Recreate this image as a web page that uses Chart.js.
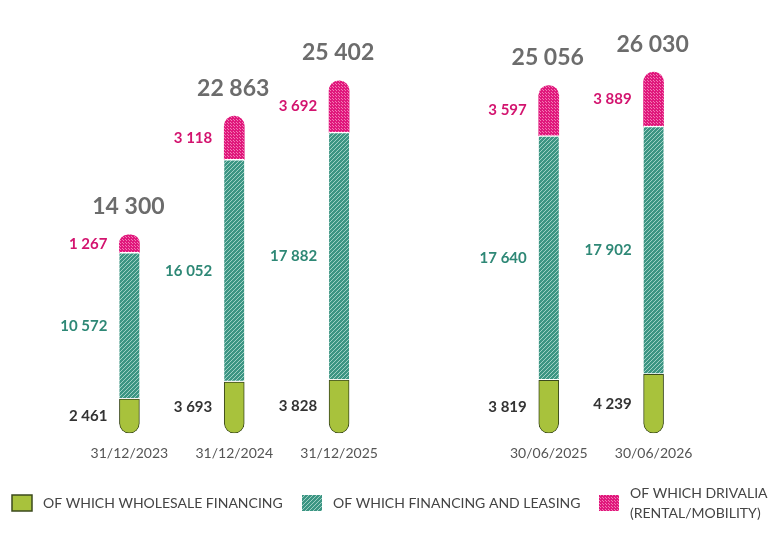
<!DOCTYPE html>
<html>
<head>
<meta charset="utf-8">
<script src="https://cdn.jsdelivr.net/npm/chart.js@4"></script>
<style>
    html, body { margin: 0; padding: 0; background: #fff; }
    #wrap { width: 778px; height: 540px; }
</style>
</head>
<body>
<div id="wrap"><canvas id="stackChart" width="778" height="540"></canvas></div>
<script>
const categories = ['31/12/2023', '31/12/2024', '31/12/2025', '', '30/06/2025', '30/06/2026'];
const wholesale = [2461, 3693, 3828, null, 3819, 4239];
const financing = [10572, 16052, 17882, null, 17640, 17902];
const drivalia = [1267, 3118, 3692, null, 3597, 3889];
const totals = [14300, 22863, 25402, null, 25056, 26030];
const seriesNames = [
    ['OF WHICH WHOLESALE FINANCING'],
    ['OF WHICH FINANCING AND LEASING'],
    ['OF WHICH DRIVALIA', '(RENTAL/MOBILITY)']
];

const FONT = 'Lato, "Open Sans", sans-serif';
const fmt = n => String(n).replace(/\B(?=(\d{3})+(?!\d))/g, ' ');

function hatchPattern() {
    const c = document.createElement('canvas');
    c.width = 4; c.height = 4;
    const g = c.getContext('2d');
    g.fillStyle = '#3c9583';
    g.fillRect(0, 0, 4, 4);
    g.strokeStyle = '#9fd0c4';
    g.lineWidth = 1;
    g.beginPath();
    g.moveTo(0, 4); g.lineTo(4, 0);
    g.moveTo(-1, 1); g.lineTo(1, -1);
    g.moveTo(3, 5); g.lineTo(5, 3);
    g.stroke();
    return g.createPattern(c, 'repeat');
}

function dotPattern() {
    const c = document.createElement('canvas');
    c.width = 3; c.height = 3;
    const g = c.getContext('2d');
    g.fillStyle = '#e0187c';
    g.fillRect(0, 0, 3, 3);
    g.fillStyle = '#f27bb5';
    g.fillRect(0, 0, 1, 1);
    g.fillRect(2, 2, 1, 1);
    return g.createPattern(c, 'repeat');
}

const greenFill = '#a8c23c';
const tealFill = hatchPattern();
const pinkFill = dotPattern();
const labelColors = ['#333333', '#2e8876', '#d3146f'];

const segmentLabels = {
    id: 'segmentLabels',
    afterDatasetsDraw(chart) {
        const ctx = chart.ctx;
        ctx.save();
        ctx.textAlign = 'right';
        ctx.textBaseline = 'middle';
        ctx.font = 'bold 15px ' + FONT;
        chart.data.datasets.forEach((ds, di) => {
            const meta = chart.getDatasetMeta(di);
            meta.data.forEach((bar, i) => {
                if (ds.data[i] == null) return;
                const p = bar.getProps(['x', 'y', 'base', 'width'], true);
                ctx.fillStyle = labelColors[di];
                ctx.fillText(fmt(ds.data[i]), p.x - p.width / 2 - 12, (p.y + p.base) / 2);
            });
        });
        // totals above the stack
        const top = chart.getDatasetMeta(chart.data.datasets.length - 1);
        ctx.textAlign = 'center';
        ctx.font = 'bold 23px ' + FONT;
        ctx.fillStyle = '#6c6c6c';
        top.data.forEach((bar, i) => {
            if (totals[i] == null) return;
            const p = bar.getProps(['x', 'y'], true);
            ctx.fillText(fmt(totals[i]), p.x - 1, p.y - 28);
        });
        ctx.restore();
    }
};

const legendRow = {
    id: 'legendRow',
    afterDraw(chart) {
        const ctx = chart.ctx;
        const slots = [12, 302, 599];
        const y = 503;
        ctx.save();
        ctx.font = '14px ' + FONT;
        ctx.textBaseline = 'middle';
        ctx.textAlign = 'left';
        chart.data.datasets.forEach((ds, di) => {
            const x = slots[di];
            ctx.fillStyle = ds.backgroundColor;
            ctx.fillRect(x, y - 8, 20, 16);
            if (di === 0) {
                ctx.strokeStyle = '#3b4a1c';
                ctx.lineWidth = 1.5;
                ctx.strokeRect(x, y - 8, 20, 16);
            }
            ctx.fillStyle = '#444';
            const lines = seriesNames[di];
            lines.forEach((t, li) => {
                const ly = y + (li - (lines.length - 1) / 2) * 20;
                ctx.fillText(t, x + 31, ly);
            });
        });
        ctx.restore();
    }
};

new Chart(document.getElementById('stackChart'), {
    type: 'bar',
    data: {
        labels: categories,
        datasets: [
            {
                label: seriesNames[0].join(' '),
                data: wholesale,
                backgroundColor: greenFill,
                borderColor: '#3b4a1c',
                borderWidth: 1,
                borderSkipped: false,
                borderRadius: { topLeft: 0, topRight: 0, bottomLeft: 10, bottomRight: 10 },
            },
            {
                label: seriesNames[1].join(' '),
                data: financing,
                backgroundColor: tealFill,
                borderColor: '#ffffff',
                borderWidth: { top: 1.5, bottom: 1.5, left: 0, right: 0 },
                borderSkipped: false,
                borderRadius: 0,
            },
            {
                label: seriesNames[2].join(' '),
                data: drivalia,
                backgroundColor: pinkFill,
                borderWidth: 0,
                borderSkipped: false,
                borderRadius: { topLeft: 10, topRight: 10, bottomLeft: 0, bottomRight: 0 },
            }
        ]
    },
    options: {
        responsive: false,
        animation: false,
        devicePixelRatio: 1,
        layout: { padding: { top: 31, left: 77, right: 72, bottom: 74 } },
        datasets: { bar: { barThickness: 20 } },
        plugins: {
            legend: { display: false },
            tooltip: { enabled: false }
        },
        scales: {
            x: {
                stacked: true,
                grid: { display: false },
                border: { display: false },
                ticks: { color: '#555', padding: 4, font: { family: FONT, size: 14 } }
            },
            y: {
                stacked: true,
                display: false,
                min: 0,
                max: 29000
            }
        }
    },
    plugins: [segmentLabels, legendRow]
});
</script>
</body>
</html>
